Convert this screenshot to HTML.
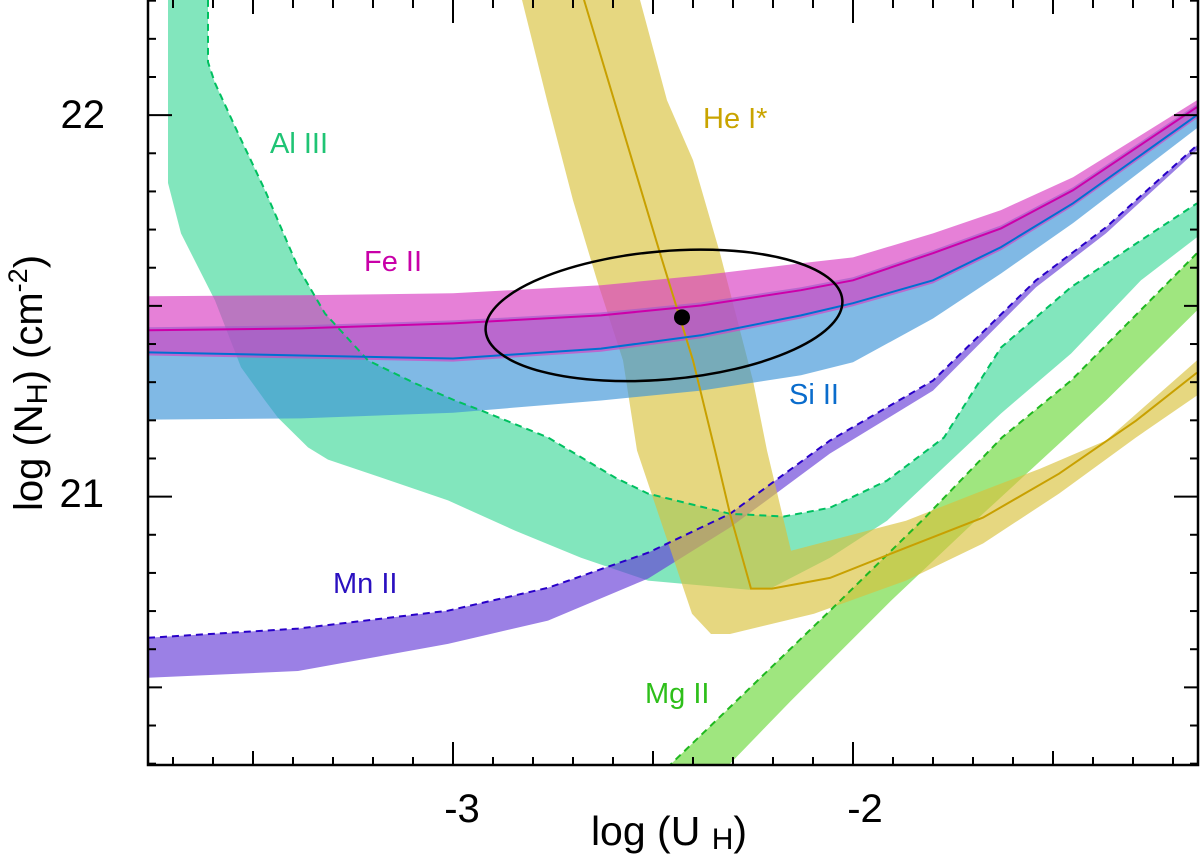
<!DOCTYPE html>
<html><head><meta charset="utf-8">
<style>
html,body{margin:0;padding:0;background:#fff;}
svg{display:block;font-family:"Liberation Sans",Arial,sans-serif;}
</style></head>
<body>
<svg id="chart" width="1200" height="855" viewBox="0 0 1200 855" xmlns="http://www.w3.org/2000/svg">
<defs><clipPath id="plotclip"><rect x="148" y="0" width="1050" height="765"/></clipPath></defs>
<g id="bands" clip-path="url(#plotclip)"></g>
<g id="axes"></g>
<text x="462" y="822" font-size="40" text-anchor="middle">-3</text>
<text x="865" y="822" font-size="40" text-anchor="middle">-2</text>
<text x="105" y="128" font-size="40" text-anchor="end">22</text>
<text x="104" y="507" font-size="40" text-anchor="end">21</text>
<text x="669" y="845" font-size="41" text-anchor="middle">log (U <tspan font-size="30" dy="4">H</tspan><tspan dy="-4">)</tspan></text>
<text transform="translate(42,383) rotate(-90)" font-size="40" text-anchor="middle">log (N<tspan font-size="29" dy="5">H</tspan><tspan dy="-5">) (cm</tspan><tspan font-size="27" dy="-15">-2</tspan><tspan dy="15">)</tspan></text>
<text x="270" y="153" font-size="29" fill="#1fc474">Al III</text>
<text x="364" y="271" font-size="29" fill="#c800a8">Fe II</text>
<text x="703" y="128" font-size="29" fill="#c9a400">He I*</text>
<text x="789" y="404" font-size="29" fill="#0a6ccc">Si II</text>
<text x="333" y="593" font-size="29" fill="#2a10c0">Mn II</text>
<text x="645" y="703" font-size="29" fill="#2ebf1a">Mg II</text>
</svg>
<script>
// ---- data ----
const bandX = [-3.76,-3.38,-3.0,-2.63,-2.38,-2.13,-2.0,-1.8,-1.63,-1.45,-1.14];
const feTop = [21.525,21.528,21.533,21.554,21.580,21.612,21.627,21.690,21.751,21.837,22.039];
const feLine = [21.436,21.441,21.454,21.475,21.501,21.541,21.567,21.638,21.703,21.803,22.021];
const siLine = [21.378,21.370,21.362,21.388,21.423,21.475,21.507,21.567,21.654,21.769,22.0];
const siBottom = [21.202,21.205,21.220,21.252,21.278,21.318,21.352,21.467,21.585,21.717,21.966];
const mnX = [-3.7625,-3.3875,-3.0125,-2.7625,-2.5125,-2.3075,-2.0575,-1.80,-1.5425,-1.3675,-1.14];
const mnTop = [20.630,20.654,20.701,20.761,20.853,20.955,21.147,21.304,21.567,21.706,21.921];
const mnBottom = [20.525,20.543,20.614,20.675,20.785,20.919,21.113,21.278,21.549,21.690,21.908];
const alUpperX = [-3.6125,-3.6125,-3.595,-3.5375,-3.47,-3.3875,-3.32,-3.2125,-3.095,-2.995,-2.93,-2.7625,-2.595,-2.5125,-2.3075,-2.1725,-2.0575,-1.915,-1.7725,-1.63,-1.455,-1.28,-1.14];
const alUpperY = [22.302,22.139,22.084,21.953,21.803,21.601,21.480,21.357,21.297,21.252,21.226,21.155,21.050,21.008,20.955,20.948,20.971,21.042,21.155,21.391,21.549,21.672,21.769];
const alLowerX = [-3.7125,-3.7125,-3.68,-3.595,-3.53,-3.47,-3.4375,-3.3625,-3.3125,-3.18,-3.0125,-2.845,-2.68,-2.5125,-2.26,-2.2025,-2.0575,-1.915,-1.80,-1.63,-1.455,-1.28,-1.14];
const alLowerY = [22.302,21.822,21.690,21.514,21.339,21.252,21.207,21.129,21.097,21.050,20.990,20.911,20.840,20.780,20.756,20.761,20.840,20.937,21.050,21.218,21.375,21.567,21.680];
const mgUpperX = [-2.465,-2.0575,-1.82,-1.6275,-1.455,-1.14];
const mgUpperY = [20.289,20.701,20.945,21.155,21.304,21.638];
const mgLowerX = [-2.3175,-2.155,-1.905,-1.675,-1.3675,-1.14];
const mgLowerY = [20.289,20.465,20.727,20.955,21.252,21.488];
const heX = [-2.8275,-2.765,-2.70,-2.64,-2.575,-2.54,-2.4025,-2.355,-2.3075,-2.0975,-1.8675,-1.675,-1.485,-1.2925,-1.14,-1.14,-1.3675,-1.5325,-1.675,-1.8675,-2.155,-2.215,-2.25,-2.3325,-2.40,-2.465,-2.5325];
const heY = [22.302,22.039,21.777,21.567,21.357,21.121,20.693,20.640,20.640,20.693,20.780,20.877,21.008,21.155,21.265,21.357,21.147,21.073,21.016,20.937,20.858,21.121,21.304,21.638,21.882,22.039,22.302];
const heLineX = [-2.6725,-2.4825,-2.40,-2.345,-2.3075,-2.255,-2.2025,-2.0575,-1.8675,-1.675,-1.485,-1.2925,-1.14];
const heLineY = [22.302,21.638,21.357,21.121,20.955,20.759,20.759,20.787,20.866,20.945,21.060,21.199,21.325];
const ellipseC = [-2.4725, 21.475];
const ellipseR = [0.4475, 0.168];
const bestFit = [-2.4275, 21.47];
const xTicksMinor = [-3.7,-3.6,-3.5,-3.4,-3.3,-3.2,-3.1,-3.0,-2.9,-2.8,-2.7,-2.6,-2.5,-2.4,-2.3,-2.2,-2.1,-2.0,-1.9,-1.8,-1.7,-1.6,-1.5,-1.4,-1.3,-1.2];
const yTicksMinor = [20.3,20.4,20.5,20.6,20.7,20.8,20.9,21.0,21.1,21.2,21.3,21.4,21.5,21.6,21.7,21.8,21.9,22.0,22.1,22.2,22.3];

// ---- axes ----
const X0=148,X1=1198,Y0=0,Y1=765, xmin=-3.7625,xmax=-1.1375,ymin=20.2965,ymax=22.3018;
function sx(v){return X0+(v-xmin)/(xmax-xmin)*(X1-X0);}
function sy(v){return Y1-(v-ymin)/(ymax-ymin)*(Y1-Y0);}
const NS='http://www.w3.org/2000/svg';
const bands=document.getElementById('bands'), axes=document.getElementById('axes');
function mk(tag,attrs,parent){const e=document.createElementNS(NS,tag);for(const k in attrs)e.setAttribute(k,attrs[k]);parent.appendChild(e);return e;}
function ptsXY(xs,ys){return xs.map((x,i)=>sx(x).toFixed(1)+','+sy(ys[i]).toFixed(1));}
function bandPts(xs,top,bot){return ptsXY(xs,top).concat(ptsXY(xs,bot).reverse()).join(' ');}

let e;
e=mk('polygon',{points:ptsXY(alUpperX,alUpperY).concat(ptsXY(alLowerX,alLowerY).reverse()).join(' '),fill:'rgb(63,217,153)','fill-opacity':0.65},bands);


e=mk('polygon',{points:bandPts(mnX,mnTop,mnBottom),fill:'rgb(101,60,215)','fill-opacity':0.65},bands);


e=mk('polygon',{points:ptsXY(mgUpperX,mgUpperY).concat(ptsXY(mgLowerX,mgLowerY).reverse()).join(' '),fill:'rgb(107,217,58)','fill-opacity':0.65},bands);


e=mk('polygon',{points:ptsXY(heX,heY).join(' '),fill:'rgb(217,193,60)','fill-opacity':0.65},bands);


const siTop=feLine.map(v=>v+0.008), feBot=siLine.map(v=>v-0.008);
e=mk('polygon',{points:bandPts(bandX,siTop,siBottom),fill:'rgb(60,147,215)','fill-opacity':0.65},bands);


e=mk('polygon',{points:bandPts(bandX,feTop,feBot),fill:'rgb(217,60,193)','fill-opacity':0.65},bands);



e=mk('polyline',{points:ptsXY(alUpperX,alUpperY).join(' '),fill:'none',stroke:'#00c060','stroke-width':2,'stroke-dasharray':'7,5'},bands);


e=mk('polyline',{points:ptsXY(mnX,mnTop).join(' '),fill:'none',stroke:'#2800c8','stroke-width':2,'stroke-dasharray':'7,5'},bands);


e=mk('polyline',{points:ptsXY(mgUpperX,mgUpperY).join(' '),fill:'none',stroke:'#20b820','stroke-width':2,'stroke-dasharray':'7,5'},bands);


e=mk('polyline',{points:ptsXY(heLineX,heLineY).join(' '),fill:'none',stroke:'#c8a000','stroke-width':2},bands);


e=mk('polyline',{points:ptsXY(bandX,siLine).join(' '),fill:'none',stroke:'#0070d0','stroke-width':2},bands);


e=mk('polyline',{points:ptsXY(bandX,feLine).join(' '),fill:'none',stroke:'#cc00aa','stroke-width':2},bands);



const ecx=sx(ellipseC[0]), ecy=sy(ellipseC[1]);
e=mk('ellipse',{cx:ecx,cy:ecy,rx:ellipseR[0]*(X1-X0)/(xmax-xmin),ry:ellipseR[1]*(Y1-Y0)/(ymax-ymin),fill:'none',stroke:'#000','stroke-width':2.5,transform:'rotate(-5 '+ecx+' '+ecy+')'},bands);


e=mk('circle',{cx:sx(bestFit[0]),cy:sy(bestFit[1]),r:8,fill:'#000'},bands);



// ticks
xTicksMinor.forEach(v=>{
  const r=Math.round(v*10);
  const L = (r%10===0)?23:((r%5===0)?14:8);
  const x=sx(v);
  let t=mk('line',{x1:x,x2:x,y1:Y1,y2:Y1-L,stroke:'#000','stroke-width':2},axes);
  
  
  t=mk('line',{x1:x,x2:x,y1:Y0,y2:Y0+L,stroke:'#000','stroke-width':2},axes);
  
  
});
yTicksMinor.forEach(v=>{
  const r=Math.round(v*10);
  const L = (r%10===0)?24:((r%5===0)?14:8);
  const y=sy(v);
  let t=mk('line',{x1:X0,x2:X0+L,y1:y,y2:y,stroke:'#000','stroke-width':2},axes);
  
  
  t=mk('line',{x1:X1,x2:X1-L,y1:y,y2:y,stroke:'#000','stroke-width':2},axes);
  
  
});
e=mk('rect',{x:X0,y:Y0-2,width:X1-X0,height:Y1-Y0+2,fill:'none',stroke:'#000','stroke-width':2.5},axes);


</script>
</body></html>
